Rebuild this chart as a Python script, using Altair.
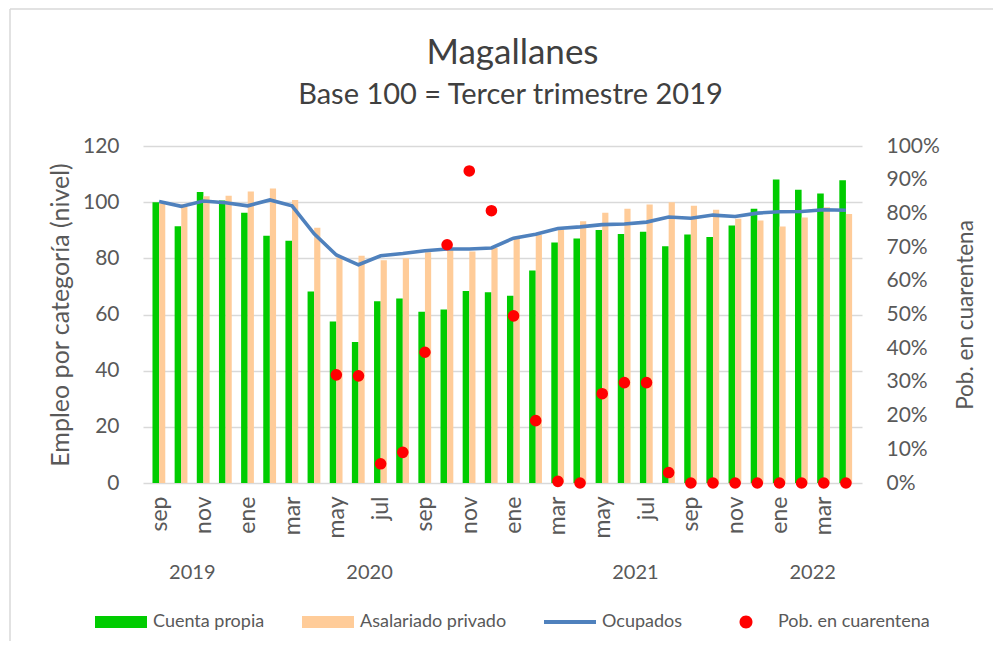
import altair as alt
import pandas as pd

# ---------------- data ----------------
months = ["sep", "oct", "nov", "dic",
          "ene", "feb", "mar", "abr", "may", "jun", "jul", "ago", "sep", "oct", "nov", "dic",
          "ene", "feb", "mar", "abr", "may", "jun", "jul", "ago", "sep", "oct", "nov", "dic",
          "ene", "feb", "mar", "abr"]
years = ["2019", "2020", "2021", "2022"]
months_per_year = [4, 12, 12, 4]

cuenta_propia = [100.0, 91.4, 103.6, 100.6, 96.2, 88.0, 86.3, 68.2, 57.5, 50.2, 64.7, 65.7,
                 61.0, 61.8, 68.4, 67.9, 66.7, 75.7, 85.6, 87.1, 90.1, 88.7, 89.5, 84.3,
                 88.5, 87.6, 91.7, 97.7, 108.1, 104.4, 103.1, 107.8]
asalariado = [99.5, 99.3, 102.1, 102.3, 103.8, 104.9, 100.8, 90.9, 80.4, 80.9, 79.3, 80.0,
              82.2, 83.2, 82.4, 83.7, 86.9, 88.4, 90.3, 93.2, 96.2, 97.7, 99.2, 100.0,
              98.7, 97.3, 94.1, 93.5, 91.3, 94.5, 98.2, 95.8]
ocupados = [100.2, 98.5, 100.4, 99.8, 98.7, 100.8, 98.7, 88.7, 81.2, 77.7, 80.9, 81.7,
            82.7, 83.3, 83.3, 83.7, 87.2, 88.6, 90.6, 91.2, 92.0, 92.2, 92.9, 94.7,
            94.3, 95.4, 94.9, 96.1, 96.6, 96.7, 97.3, 97.1]
cuarentena = [None, None, None, None, None, None, None, None,
              0.321, 0.318, 0.057, 0.091, 0.388, 0.707, 0.926, 0.808,
              0.496, 0.185, 0.005, 0.0, 0.265, 0.298, 0.298, 0.031,
              0.0, 0.0, 0.0, 0.0, 0.0, 0.0, 0.0, 0.0]

series_names = ["Cuenta propia", "Asalariado privado", "Ocupados", "Pob. en cuarentena"]
series_colors = ["#00CC00", "#FFCC99", "#4F81BD", "#FF0000"]

title_text = "Magallanes"
subtitle_text = "Base 100 = Tercer trimestre 2019"

# ---------------- frames ----------------
df = pd.DataFrame({
    "idx": list(range(len(months))),
    "mes": months,
    "cp": cuenta_propia,
    "asal": asalariado,
    "ocup": ocupados,
    "cuar": cuarentena,
})

starts = [sum(months_per_year[:i]) for i in range(len(months_per_year))]
year_df = pd.DataFrame({
    "year": years,
    "pos": [s + (n - 1) / 2 for s, n in zip(starts, months_per_year)],
})

leg_df = pd.DataFrame({"serie": series_names, "lx": [None] * len(series_names)})

W, H = 719, 337
FONT = "Lato"
TXT = "#404040"
LBL = "#595959"

label_expr = "[" + ",".join("'%s'" % m for m in months) + "][datum.value]"
xscale = alt.Scale(domain=[-0.5, len(months) - 0.5], nice=False, zero=False)
xaxis = alt.Axis(values=list(range(0, len(months), 2)), labelExpr=label_expr,
                 labelAngle=270, labelFontSize=23, labelColor=LBL, labelFont=FONT,
                 labelPadding=13, domain=False, ticks=False, grid=False, title=None)

yscale = alt.Scale(domain=[0, 120], nice=False)
yaxis = alt.Axis(title="Empleo por categoría (nivel)", values=[0, 20, 40, 60, 80, 100, 120],
                 grid=True, gridColor="#d9d9d9", gridWidth=1.3, domain=False, ticks=False,
                 labelFontSize=21, labelColor=LBL, labelFont=FONT, labelPadding=24,
                 titleFontSize=25, titleColor=LBL, titleFont=FONT, titleFontWeight="normal",
                 titlePadding=9)

X = alt.X("idx:Q", scale=xscale, axis=xaxis)

green = alt.Chart(df).mark_bar(size=6.6, xOffset=-3.3, color=series_colors[0]).encode(
    x=X, y=alt.Y("cp:Q", scale=yscale, axis=yaxis))
orange = alt.Chart(df).mark_bar(size=6.2, xOffset=3.1, color=series_colors[1]).encode(
    x=X, y=alt.Y("asal:Q", scale=yscale, axis=yaxis))
line = alt.Chart(df).mark_line(color=series_colors[2], strokeWidth=3.6).encode(
    x=X, y=alt.Y("ocup:Q", scale=yscale, axis=yaxis))
year_text = alt.Chart(year_df).mark_text(fontSize=20, font=FONT, color=LBL,
                                         baseline="middle", align="center").encode(
    x=alt.X("pos:Q", scale=xscale, axis=xaxis), y=alt.value(427), text="year:N")

left = alt.layer(green, orange, line, year_text)

raxis = alt.Axis(orient="right", format=".0%", values=[i / 10 for i in range(11)],
                 grid=False, domain=False, ticks=False, labelFontSize=21, labelColor=LBL,
                 labelFont=FONT, labelPadding=24, title="Pob. en cuarentena",
                 titleFontSize=22.5, titleColor=LBL, titleFont=FONT, titleFontWeight="normal",
                 titleAngle=270, titlePadding=38)
dots = alt.Chart(df).mark_circle(size=135, color=series_colors[3], opacity=1).encode(
    x=X, y=alt.Y("cuar:Q", scale=alt.Scale(domain=[0, 1], nice=False), axis=raxis))

paths = [
    "M-1,-0.23H1V0.23H-1Z",
    "M-1,-0.23H1V0.23H-1Z",
    "M-1,-0.075H1V0.075H-1Z",
    "M0,-0.25A0.25,0.25 0 1,1 0,0.25A0.25,0.25 0 1,1 0,-0.25Z",
]
leg = alt.Legend(title=None, orient="none", legendX=-48, legendY=450, direction="horizontal",
                 symbolSize=2704, symbolStrokeWidth=0, labelFontSize=18, labelFont=FONT,
                 labelColor=LBL, labelOffset=6, columnPadding=37, columns=4)
legend_layer = alt.Chart(leg_df).mark_point(filled=True, opacity=1).encode(
    x=alt.X("lx:Q", scale=xscale, axis=xaxis),
    color=alt.Color("serie:N", scale=alt.Scale(domain=series_names, range=series_colors),
                    legend=leg),
    shape=alt.Shape("serie:N", scale=alt.Scale(domain=series_names, range=paths), legend=leg),
)

titles = alt.Chart(alt.Data(values=[{"t": title_text, "s": subtitle_text}]))
title_mark = titles.mark_text(fontSize=35, font=FONT, color=TXT, align="center",
                              baseline="alphabetic").encode(
    x=alt.value(W / 2 + 10), y=alt.value(-82), text="t:N")
subtitle_mark = titles.mark_text(fontSize=29, font=FONT, color=TXT, align="center",
                                 baseline="alphabetic").encode(
    x=alt.value(W / 2 + 8), y=alt.value(-42), text="s:N")

one = alt.Data(values=[{"a": 1}])
frame_top = alt.Chart(one).mark_rule(stroke="#d9d9d9", strokeWidth=1.5).encode(
    x=alt.value(-133), x2=alt.value(W + 200), y=alt.value(-137))
frame_left = alt.Chart(one).mark_rule(stroke="#d9d9d9", strokeWidth=1.5).encode(
    x=alt.value(-133), y=alt.value(-137), y2=alt.value(H + 200))

chart = alt.layer(frame_top, frame_left, title_mark, subtitle_mark, left, dots,
                  legend_layer).resolve_scale(y="independent").properties(
    width=W, height=H,
    padding={"left": 135, "top": 138, "right": 131, "bottom": 158},
    autosize=alt.AutoSizeParams(type="none"),
).configure_view(stroke=None)

chart.save("out.html", embed_options={"renderer": "svg", "actions": False})
